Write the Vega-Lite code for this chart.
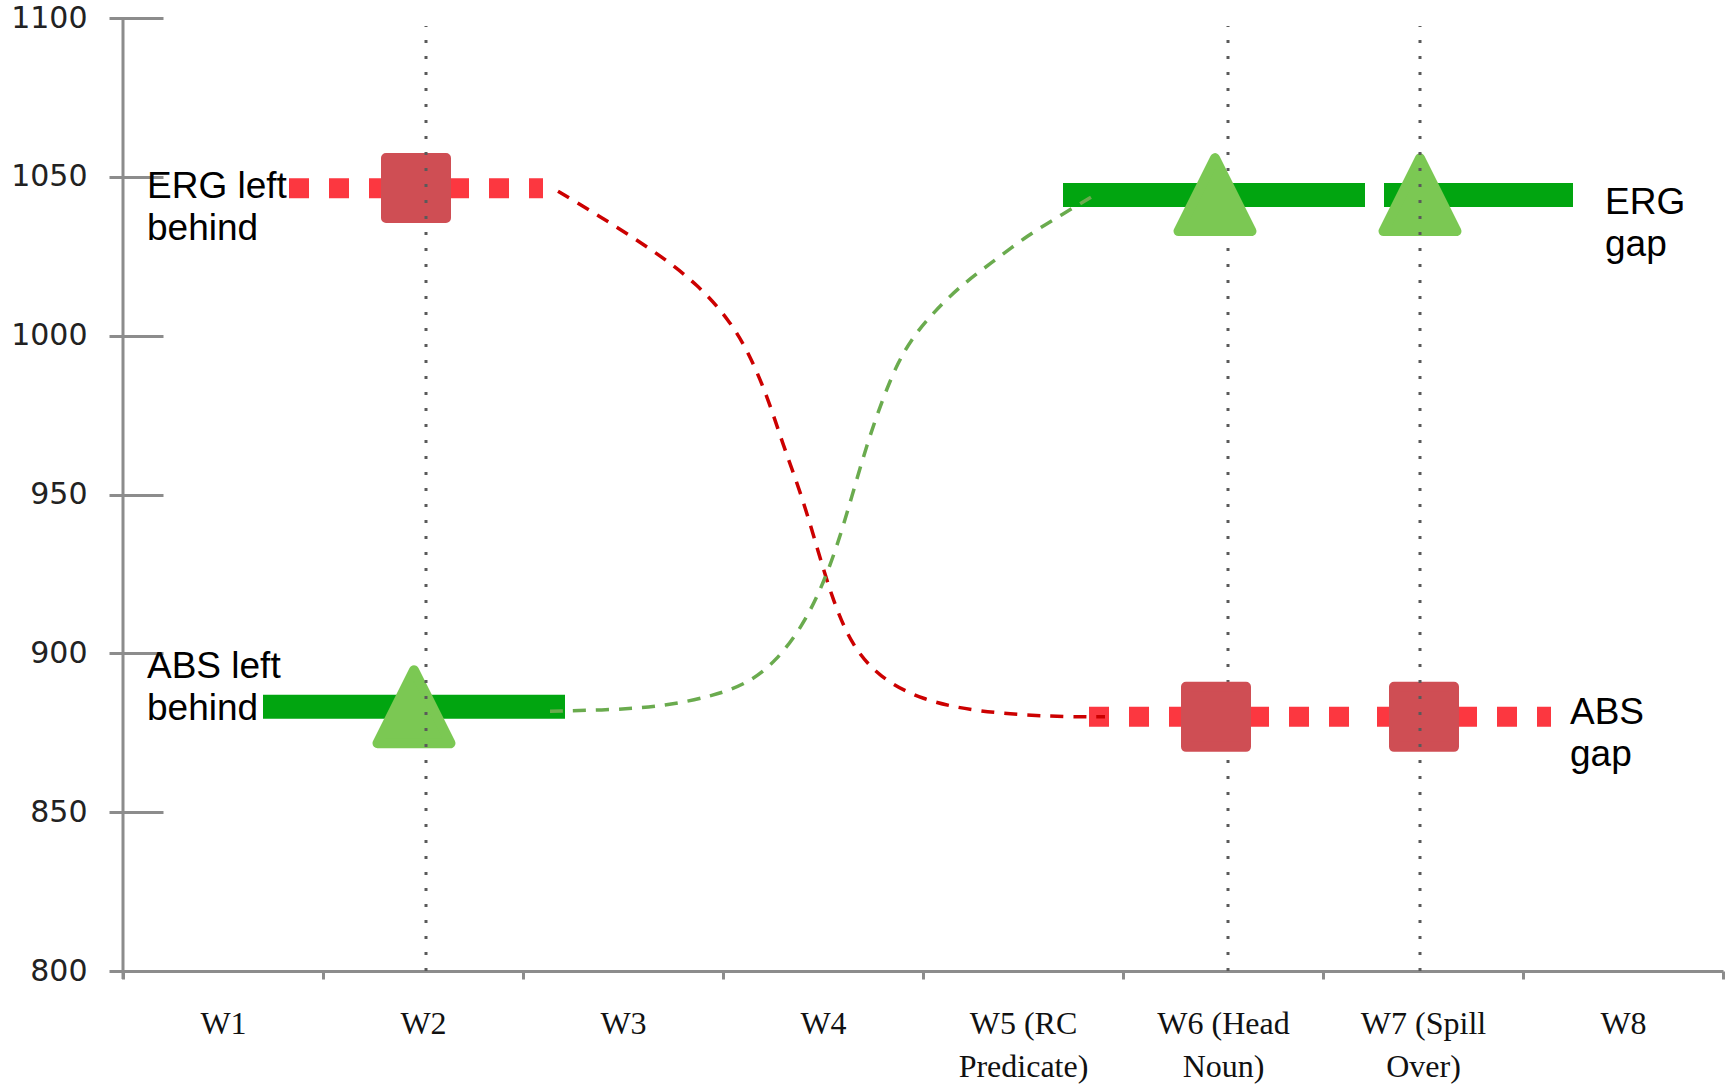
{
  "$schema": "https://vega.github.io/schema/vega-lite/v6.json",
  "width": 1600,
  "height": 953,
  "autosize": "none",
  "padding": {"left": 123, "top": 18, "right": 9, "bottom": 113},
  "background": "white",
  "config": {"view": {"stroke": null}},
  "datasets": {
    "guides": [
      {"word": "W2", "x": 1.515, "y": 800, "y2": 1097.5, "front": true},
      {"word": "W6", "x": 5.525, "y": 800, "y2": 1097.5, "front": false},
      {"word": "W7", "x": 6.485, "y": 800, "y2": 1097.5, "front": true}
    ],
    "yline": [{"x": 0, "y": 797.5, "y2": 1100}],
    "thick": [
      {"series": "ERG left behind", "seg": "a", "x": 0.83, "y": 1046.4},
      {"series": "ERG left behind", "seg": "a", "x": 2.10, "y": 1046.4},
      {"series": "ABS gap", "seg": "b", "x": 4.83, "y": 880.0},
      {"series": "ABS gap", "seg": "b", "x": 6.175, "y": 880.0},
      {"series": "ABS gap", "seg": "c", "x": 6.27, "y": 880.0},
      {"series": "ABS gap", "seg": "c", "x": 7.14, "y": 880.0},
      {"series": "ABS left behind", "seg": "d", "x": 0.70, "y": 883.2},
      {"series": "ABS left behind", "seg": "d", "x": 2.21, "y": 883.2},
      {"series": "ERG gap", "seg": "e", "x": 4.70, "y": 1044.3},
      {"series": "ERG gap", "seg": "e", "x": 6.21, "y": 1044.3},
      {"series": "ERG gap", "seg": "f", "x": 6.305, "y": 1044.3},
      {"series": "ERG gap", "seg": "f", "x": 7.25, "y": 1044.3}
    ],
    "curves": [
      {"link": "ERG", "x": 2.175, "y": 1045.5},
      {"link": "ERG", "x": 2.365, "y": 1038.3},
      {"link": "ERG", "x": 2.65, "y": 1027.0},
      {"link": "ERG", "x": 2.88, "y": 1015.9},
      {"link": "ERG", "x": 3.035, "y": 1004.6},
      {"link": "ERG", "x": 3.13, "y": 994.5},
      {"link": "ERG", "x": 3.225, "y": 980.4},
      {"link": "ERG", "x": 3.30, "y": 965.6},
      {"link": "ERG", "x": 3.395, "y": 949.5},
      {"link": "ERG", "x": 3.475, "y": 932.2},
      {"link": "ERG", "x": 3.55, "y": 916.5},
      {"link": "ERG", "x": 3.645, "y": 902.3},
      {"link": "ERG", "x": 3.78, "y": 892.5},
      {"link": "ERG", "x": 3.99, "y": 885.3},
      {"link": "ERG", "x": 4.275, "y": 881.5},
      {"link": "ERG", "x": 4.66, "y": 880.0},
      {"link": "ERG", "x": 4.91, "y": 880.0},
      {"link": "ABS", "x": 2.135, "y": 881.8},
      {"link": "ABS", "x": 2.46, "y": 882.2},
      {"link": "ABS", "x": 2.71, "y": 883.4},
      {"link": "ABS", "x": 2.955, "y": 886.6},
      {"link": "ABS", "x": 3.13, "y": 890.7},
      {"link": "ABS", "x": 3.265, "y": 897.5},
      {"link": "ABS", "x": 3.395, "y": 908.3},
      {"link": "ABS", "x": 3.49, "y": 920.2},
      {"link": "ABS", "x": 3.57, "y": 933.5},
      {"link": "ABS", "x": 3.645, "y": 949.5},
      {"link": "ABS", "x": 3.72, "y": 965.9},
      {"link": "ABS", "x": 3.80, "y": 980.4},
      {"link": "ABS", "x": 3.875, "y": 991.7},
      {"link": "ABS", "x": 3.95, "y": 999.6},
      {"link": "ABS", "x": 4.045, "y": 1006.8},
      {"link": "ABS", "x": 4.18, "y": 1015.3},
      {"link": "ABS", "x": 4.335, "y": 1022.6},
      {"link": "ABS", "x": 4.525, "y": 1031.7},
      {"link": "ABS", "x": 4.70, "y": 1038.3},
      {"link": "ABS", "x": 4.84, "y": 1043.6}
    ],
    "markers": [
      {"condition": "square", "word": "W2", "x": 1.465, "y": 1046.5},
      {"condition": "square", "word": "W6", "x": 5.465, "y": 880.0},
      {"condition": "square", "word": "W7", "x": 6.505, "y": 880.0},
      {"condition": "triangle", "word": "W2", "x": 1.455, "y": 883.2},
      {"condition": "triangle", "word": "W6", "x": 5.46, "y": 1044.4},
      {"condition": "triangle", "word": "W7", "x": 6.485, "y": 1044.4}
    ],
    "labels": [
      {"label": "ERG left\nbehind", "x": 0.12, "y": 1043.3},
      {"label": "ABS left\nbehind", "x": 0.12, "y": 892.2},
      {"label": "ERG\ngap", "x": 7.41, "y": 1038.3},
      {"label": "ABS\ngap", "x": 7.235, "y": 877.8}
    ]
  },
  "encoding": {
    "x": {
      "field": "x", "type": "quantitative",
      "scale": {"domain": [0, 8], "nice": false, "zero": false},
      "axis": {
        "values": [0, 1, 2, 3, 4, 5, 6, 7, 8],
        "title": null, "grid": false,
        "domainColor": "#8c8c8c", "domainWidth": 3,
        "tickColor": "#8c8c8c", "tickWidth": 3, "tickSize": 8,
        "labelOffset": 100,
        "labelExpr": "[['W1'],['W2'],['W3'],['W4'],['W5 (RC','Predicate)'],['W6 (Head','Noun)'],['W7 (Spill','Over)'],['W8'],['']][datum.value]",
        "labelFont": "Liberation Serif", "labelFontSize": 32, "labelColor": "#111111",
        "labelPadding": 29, "labelLineHeight": 43, "labelBaseline": "top", "labelAlign": "center",
        "labelOverlap": false, "labelBound": false, "labelFlush": false
      }
    },
    "y": {
      "field": "y", "type": "quantitative",
      "scale": {"domain": [800, 1100], "nice": false, "zero": false},
      "axis": {
        "values": [800, 850, 900, 950, 1000, 1050, 1100],
        "format": "d",
        "title": null, "grid": false, "domain": false,
        "offset": -40, "tickSize": 54,
        "tickColor": "#8c8c8c", "tickWidth": 3,
        "labelPadding": 22,
        "labelFont": "DejaVu Sans", "labelFontSize": 30, "labelColor": "#222222",
        "labelOverlap": false, "labelBound": false, "labelFlush": false
      }
    }
  },
  "layer": [
    {
      "data": {"name": "guides"},
      "transform": [{"filter": "!datum.front"}],
      "mark": {"type": "rule", "color": "#5a5a5a", "strokeWidth": 3, "strokeDash": [3, 13]},
      "encoding": {"y2": {"field": "y2"}}
    },
    {
      "data": {"name": "yline"},
      "mark": {"type": "rule", "color": "#8c8c8c", "strokeWidth": 3},
      "encoding": {"y2": {"field": "y2"}}
    },
    {
      "data": {"name": "thick"},
      "transform": [{"filter": {"field": "series", "oneOf": ["ABS left behind", "ERG gap"]}}],
      "mark": {"type": "line", "color": "#01a510", "strokeWidth": 24, "strokeCap": "butt"},
      "encoding": {"detail": {"field": "seg"}}
    },
    {
      "data": {"name": "thick"},
      "transform": [{"filter": {"field": "series", "oneOf": ["ERG left behind", "ABS gap"]}}],
      "mark": {"type": "line", "color": "#fc3740", "strokeWidth": 20, "strokeCap": "butt", "strokeDash": [20, 20]},
      "encoding": {"detail": {"field": "seg"}}
    },
    {
      "data": {"name": "curves"},
      "transform": [{"filter": "datum.link == 'ERG'"}],
      "mark": {"type": "line", "color": "#cc0000", "strokeWidth": 3.5, "strokeDash": [13, 10], "interpolate": "basis"},
      "encoding": {}
    },
    {
      "data": {"name": "curves"},
      "transform": [{"filter": "datum.link == 'ABS'"}],
      "mark": {"type": "line", "color": "#6aab4e", "strokeWidth": 3.5, "strokeDash": [13, 10], "interpolate": "basis"},
      "encoding": {}
    },
    {
      "data": {"name": "markers"},
      "transform": [{"filter": "datum.condition == 'square'"}],
      "mark": {"type": "point", "shape": "square", "size": 3600, "filled": true, "fill": "#cf4e54", "stroke": "#cf4e54", "strokeWidth": 10, "strokeJoin": "round", "opacity": 1}
    },
    {
      "data": {"name": "markers"},
      "transform": [{"filter": "datum.condition == 'triangle'"}],
      "mark": {"type": "point", "shape": "M0,-1L1,1L-1,1Z", "size": 5329, "filled": true, "fill": "#7bc853", "stroke": "#7bc853", "strokeWidth": 10, "strokeJoin": "round", "opacity": 1}
    },
    {
      "data": {"name": "guides"},
      "transform": [{"filter": "datum.front"}],
      "mark": {"type": "rule", "color": "#5a5a5a", "strokeWidth": 3, "strokeDash": [3, 13]},
      "encoding": {"y2": {"field": "y2"}}
    },
    {
      "data": {"name": "labels"},
      "mark": {"type": "text", "align": "left", "baseline": "alphabetic", "font": "Liberation Sans", "fontSize": 37, "lineHeight": 42, "lineBreak": "\n", "color": "#000000"},
      "encoding": {"text": {"field": "label"}}
    }
  ]
}
